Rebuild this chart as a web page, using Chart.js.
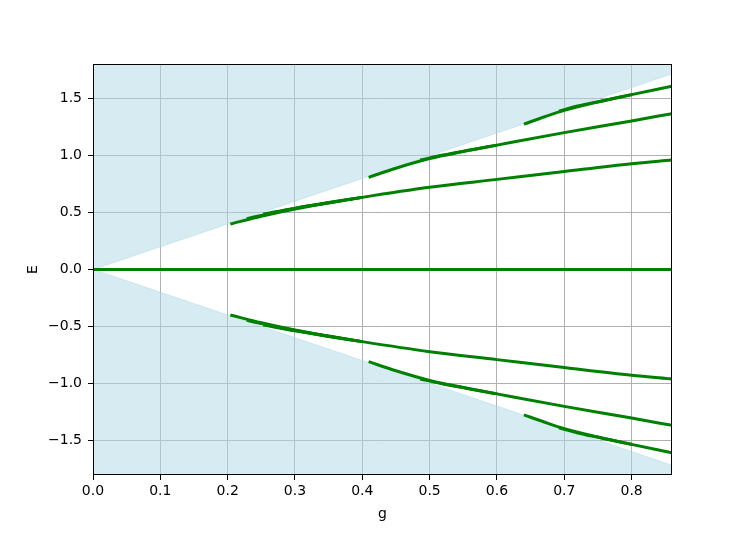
<!DOCTYPE html>
<html>
<head>
<meta charset="utf-8">
<script src="https://cdn.jsdelivr.net/npm/chart.js@4/dist/chart.umd.min.js"></script>
<style>
html,body{margin:0;padding:0;background:#fff;}
canvas{display:block;}
</style>
</head>
<body>
<canvas id="c" width="747" height="534"></canvas>
<script>
// ---- data ----
const xTicks = [0.0, 0.1, 0.2, 0.3, 0.4, 0.5, 0.6, 0.7, 0.8];
const yTicks = [-1.5, -1.0, -0.5, 0.0, 0.5, 1.0, 1.5];
const xMax = 0.86;
const yMax = 1.806;

// boundary of shaded regions (E = +/- 2g)
const boundG = [0.0, 0.86];
const boundUpper = [0.0, 1.72];
const boundLower = [0.0, -1.72];

// zero branch
const zeroG = [0.0, 0.86];
const zeroE = [0.0, 0.0];

// branch A (upper / lower)
const gA = [0.204, 0.25, 0.3, 0.35, 0.4, 0.5, 0.6, 0.7, 0.8, 0.86];
const eAup = [0.40, 0.468, 0.532, 0.585, 0.634, 0.722, 0.792, 0.862, 0.93, 0.963];
const eAlo = [-0.40, -0.468, -0.532, -0.585, -0.634, -0.722, -0.792, -0.862, -0.93, -0.963];
const gA2 = [0.2285, 0.26, 0.3, 0.35, 0.4];
const eA2up = [0.447, 0.488, 0.536, 0.587, 0.634];
const eA2lo = [-0.447, -0.488, -0.536, -0.587, -0.634];
const gA3 = [0.253, 0.3, 0.35, 0.4];
const eA3up = [0.487, 0.539, 0.588, 0.634];
const eA3lo = [-0.487, -0.539, -0.588, -0.634];

// branch B
const gB = [0.4094, 0.45, 0.5, 0.55, 0.6, 0.7, 0.8, 0.86];
const eBup = [0.81, 0.89, 0.975, 1.037, 1.093, 1.203, 1.305, 1.37];
const eBlo = [-0.81, -0.89, -0.975, -1.037, -1.093, -1.203, -1.305, -1.37];
const gB2 = [0.486, 0.52, 0.56, 0.6];
const eB2up = [0.962, 1.006, 1.05, 1.093];
const eB2lo = [-0.962, -1.006, -1.05, -1.093];

// branch C
const gC = [0.64, 0.67, 0.7, 0.75, 0.8, 0.86];
const eCup = [1.278, 1.34, 1.398, 1.472, 1.537, 1.61];
const eClo = [-1.278, -1.34, -1.398, -1.472, -1.537, -1.61];
const gC2 = [0.692, 0.72, 0.75, 0.8];
const eC2up = [1.392, 1.437, 1.475, 1.537];
const eC2lo = [-1.392, -1.437, -1.475, -1.537];

// ---- build chart ----
function pts(gs, es) { return gs.map((g, i) => ({x: g, y: es[i]})); }
const GREEN = '#008000';
function line(gs, es) {
  return {data: pts(gs, es), borderColor: GREEN, borderWidth: 3, pointRadius: 0,
          fill: false, cubicInterpolationMode: 'monotone', borderCapStyle: 'butt'};
}
const FILL = 'rgba(173,216,230,0.5)';
const datasets = [
  line(zeroG, zeroE),
  line(gA, eAup), line(gA2, eA2up), line(gA3, eA3up),
  line(gA, eAlo), line(gA2, eA2lo), line(gA3, eA3lo),
  line(gB, eBup), line(gB2, eB2up),
  line(gB, eBlo), line(gB2, eB2lo),
  line(gC, eCup), line(gC2, eC2up),
  line(gC, eClo), line(gC2, eC2lo),
  {data: pts(boundG, boundUpper), borderColor: FILL, borderWidth: 1, pointRadius: 0,
   backgroundColor: FILL, fill: 'end'},
  {data: pts(boundG, boundLower), borderColor: FILL, borderWidth: 1, pointRadius: 0,
   backgroundColor: FILL, fill: 'start'}
];

const frame = {
  id: 'frame',
  afterDraw(chart) {
    const {ctx, chartArea: a} = chart;
    ctx.save();
    ctx.strokeStyle = '#000';
    ctx.lineWidth = 1;
    ctx.strokeRect(Math.round(a.left) + 0.5, Math.round(a.top) + 0.5,
                   Math.round(a.right - a.left) - 1, Math.round(a.bottom - a.top) - 1);
    ctx.restore();
  }
};

const FONT = {family: 'DejaVu Sans', size: 14};
new Chart(document.getElementById('c'), {
  type: 'line',
  data: {datasets},
  plugins: [frame],
  options: {
    responsive: false,
    animation: false,
    devicePixelRatio: 1,
    layout: {padding: {left: 0, top: 64, right: 75, bottom: 0}},
    plugins: {legend: {display: false}, tooltip: {enabled: false}},
    scales: {
      x: {
        type: 'linear', min: 0, max: xMax,
        afterBuildTicks: s => { s.ticks = xTicks.map(v => ({value: v})); },
        afterFit: s => { s.height = 59; },
        ticks: {color: '#000', font: FONT, padding: 3, maxRotation: 0,
                callback: v => v.toFixed(1)},
        grid: {color: '#b0b0b0', lineWidth: 1, tickColor: '#000', tickLength: 5},
        border: {display: false},
        title: {display: true, text: 'g', color: '#000', font: FONT, padding: {top: 0, bottom: 11}}
      },
      y: {
        type: 'linear', min: -yMax, max: yMax,
        afterBuildTicks: s => { s.ticks = yTicks.map(v => ({value: v})); },
        afterFit: s => { s.width = 93; },
        ticks: {color: '#000', font: FONT, padding: 6,
                callback: v => v.toFixed(1).replace('-', '\u2212')},
        grid: {color: '#b0b0b0', lineWidth: 1, tickColor: '#000', tickLength: 5},
        border: {display: false},
        title: {display: true, text: 'E', color: '#000', font: FONT, padding: {top: 25, bottom: 0}}
      }
    }
  }
});
</script>
</body>
</html>
